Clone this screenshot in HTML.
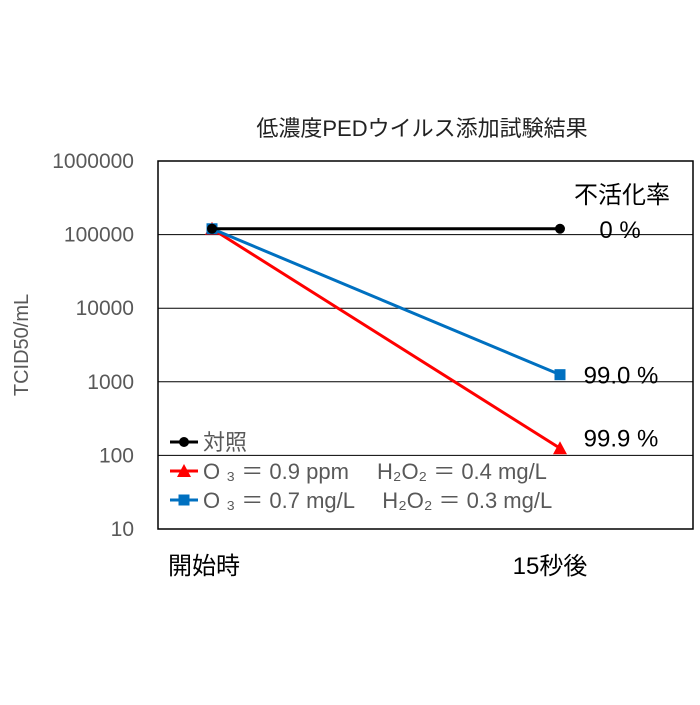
<!DOCTYPE html>
<html><head><meta charset="utf-8"><style>
body{margin:0;background:#fff;}
svg text{font-family:"Liberation Sans","Noto Sans CJK JP",sans-serif;}
</style></head><body>
<svg width="700" height="700" viewBox="0 0 700 700">
<text x="422" y="136" text-anchor="middle" font-size="22" fill="#222">低濃度PEDウイルス添加試験結果</text>
<text transform="translate(28,345) rotate(-90)" text-anchor="middle" font-size="20" fill="#595959">TCID50/mL</text>
<g id="grid"></g>
<rect x="158" y="161" width="535" height="368" fill="none" stroke="#000" stroke-width="1.5"/>
<g id="ticks"></g>
<g id="series"></g>
<text x="622" y="203" text-anchor="middle" font-size="24" fill="#000">不活化率</text>
<g id="ann"></g>
<g id="legend"></g>
<text x="204" y="574" text-anchor="middle" font-size="24" fill="#000">開始時</text>
<text x="550" y="574" text-anchor="middle" font-size="24" fill="#000">15秒後</text>
</svg>
<script>
const tickValues=[10,100,1000,10000,100000,1000000];
const tickLabels=["10","100","1000","10000","100000","1000000"];
const xCategories=["開始時","15秒後"];
const controlValues=[120000,120000];
const redValues=[120000,125];
const blueValues=[120000,1250];
const rateLabels=["0 %","99.0 %","99.9 %"];
const legendLabels=["対照","O ₃ ＝ 0.9 ppm　 H₂O₂ ＝ 0.4 mg/L","O ₃ ＝ 0.7 mg/L　 H₂O₂ ＝ 0.3 mg/L"];
const NS="http://www.w3.org/2000/svg";
function y(v){return 529-(Math.log10(v)-1)*73.6;}
function x(i){return 212+i*348;}
function mk(t,a,p){const e=document.createElementNS(NS,t);for(const k in a)e.setAttribute(k,a[k]);document.getElementById(p).appendChild(e);return e;}
tickValues.forEach((v,i)=>{
 if(i>0&&i<tickValues.length-1){const g=mk('line',{x1:158,x2:693,y1:y(v),y2:y(v),stroke:'#000','stroke-width':1},'grid');
 
 }
 const t=mk('text',{x:134,y:y(v)+7,'text-anchor':'end','font-size':21,fill:'#595959'},'ticks');t.textContent=tickLabels[i];
 
 
});
function series(vals,color,marker,name){
 const l=mk('polyline',{points:vals.map((v,i)=>x(i)+','+y(v)).join(' '),fill:'none',stroke:color,'stroke-width':3},'series');
 
 
 vals.forEach((v,i)=>{drawMarker(x(i),y(v),color,marker,'series',name);});
}
function drawMarker(cx,cy,color,marker,p,name){
 let m;
 if(marker==='circle')m=mk('circle',{cx:cx,cy:cy,r:5,fill:color},p);
 else if(marker==='square')m=mk('rect',{x:cx-5.5,y:cy-5.5,width:11,height:11,fill:color},p);
 else m=mk('polygon',{points:`${cx},${cy-7} ${cx+7},${cy+6} ${cx-7},${cy+6}`,fill:color},p);
 
 
}
series(redValues,'#ff0000','tri','red-series');
series(blueValues,'#0070c0','square','blue-series');
series(controlValues,'#000','circle','control-series');
const annV=[controlValues[1],blueValues[1],redValues[1]];
const annX=[620,621,621];
annV.forEach((v,i)=>{const t=mk('text',{x:annX[i],y:(i==2?y(v)-2:y(v)+9),'text-anchor':'middle','font-size':24,fill:'#000'},'ann');t.textContent=rateLabels[i];
 
 });
const lc=['#000','#ff0000','#0070c0'],lm=['circle','tri','square'],ly=[442,471,500];
legendLabels.forEach((s,i)=>{
 const l=mk('line',{x1:170,x2:198,y1:ly[i],y2:ly[i],stroke:lc[i],'stroke-width':3},'legend');
 
 
 drawMarker(184,ly[i],lc[i],lm[i],'legend','legend');
 const t=mk('text',{x:203,y:ly[i]+8,'font-size':22,fill:'#595959'},'legend');t.textContent=s;
 
 
});
</script>
</body></html>
